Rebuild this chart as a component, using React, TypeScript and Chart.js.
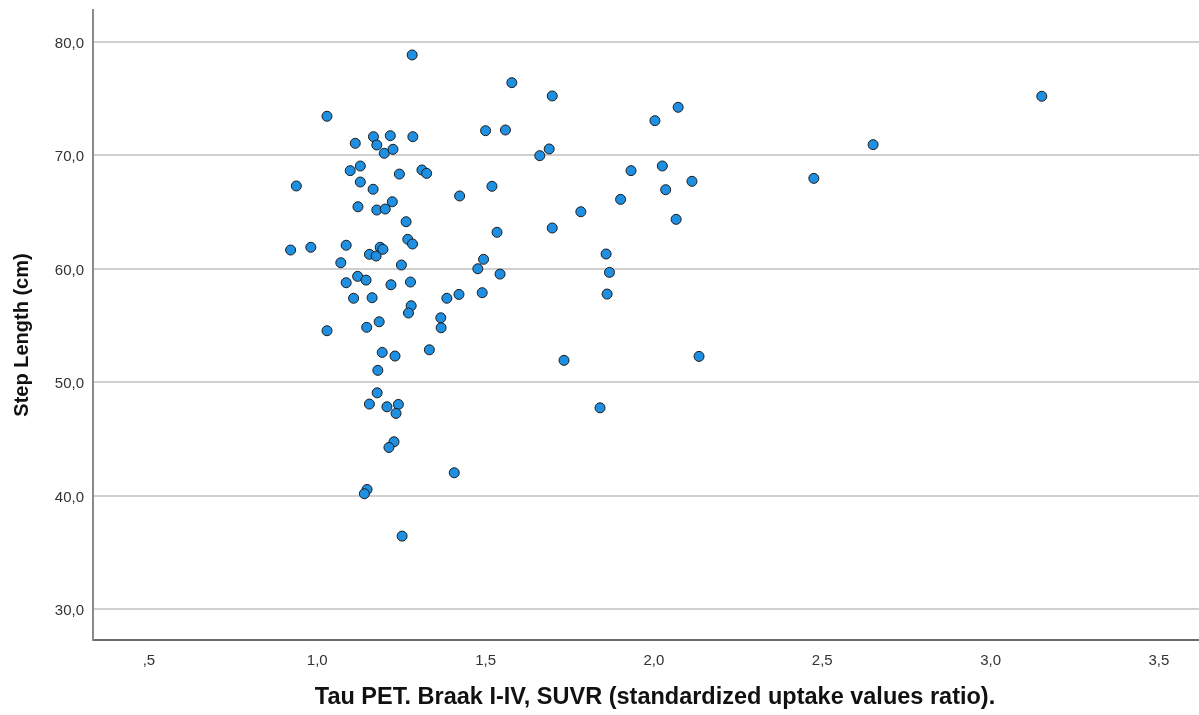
import React, { useEffect, useRef } from "react";
import { Chart, registerables } from "chart.js";

Chart.register(...registerables);

// Tau PET SUVR (x) vs Step Length in cm (y)
const xValues = [
  1.282, 1.578, 1.698, 1.029, 1.500, 1.559, 1.113, 1.167, 1.217, 1.284,
  1.177, 1.199, 1.225, 1.661, 1.689, 1.098, 1.128, 1.244, 1.311, 1.325,
  0.938, 1.128, 1.166, 1.519, 1.423, 1.121, 1.177, 1.202, 1.223, 1.264,
  1.534, 1.698, 0.921, 0.981, 1.086, 1.155, 1.175, 1.187, 1.195, 1.269,
  1.283, 1.070, 1.250, 1.494, 1.477, 1.543, 1.086, 1.120, 1.145, 1.219,
  1.277, 1.108, 1.163, 1.385, 1.421, 1.490, 2.072, 2.003, 1.932, 2.025,
  2.113, 2.035, 1.901, 1.783, 2.066, 1.858, 1.868, 1.861, 3.152, 2.651,
  2.475, 1.733, 2.134, 1.840, 1.279, 1.271, 1.367, 1.368, 1.029, 1.147,
  1.184, 1.333, 1.193, 1.231, 1.180, 1.178, 1.155, 1.207, 1.241, 1.234,
  1.228, 1.213, 1.407, 1.148, 1.140, 1.252,
];
const yValues = [
  78.83, 76.39, 75.22, 73.43, 72.16, 72.22, 71.05, 71.63, 71.72, 71.63,
  70.90, 70.17, 70.52, 69.96, 70.55, 68.64, 69.05, 68.34, 68.70, 68.40,
  67.29, 67.64, 67.00, 67.26, 66.41, 65.46, 65.17, 65.26, 65.90, 64.14,
  63.21, 63.59, 61.65, 61.89, 62.07, 61.27, 61.12, 61.89, 61.71, 62.59,
  62.18, 60.53, 60.33, 60.83, 60.00, 59.53, 58.77, 59.33, 59.00, 58.59,
  58.83, 57.40, 57.45, 57.40, 57.74, 57.89, 74.22, 73.04, 68.64, 69.05,
  67.70, 66.96, 66.11, 65.02, 64.35, 61.30, 59.68, 57.77, 75.19, 70.93,
  67.96, 51.93, 52.28, 47.75, 56.74, 56.10, 55.68, 54.80, 54.54, 54.84,
  55.33, 52.86, 52.63, 52.31, 51.05, 49.07, 48.08, 47.84, 48.05, 47.26,
  44.76, 44.26, 42.03, 40.56, 40.18, 36.45,
];

const xTickValues = [0.5, 1.0, 1.5, 2.0, 2.5, 3.0, 3.5];
const xTickLabels = [",5", "1,0", "1,5", "2,0", "2,5", "3,0", "3,5"];
const yTickValues = [30, 40, 50, 60, 70, 80];
const yTickLabels = ["30,0", "40,0", "50,0", "60,0", "70,0", "80,0"];

const xAxisTitle = "Tau PET. Braak I-IV, SUVR (standardized uptake values ratio).";
const yAxisTitle = "Step Length (cm)";

const xMin = 0.334;
const xMax = 3.619;
const yMin = 27.3;
const yMax = 82.79;

const FONT = "'Liberation Sans', Arial, Helvetica, sans-serif";

// Axis titles, placed slightly off-centre as in the source picture.
const axisTitlesPlugin = {
  id: "axisTitlesPlugin",
  afterDraw(chart: any) {
    const { ctx, chartArea } = chart;
    ctx.save();
    ctx.fillStyle = "#111111";
    ctx.textAlign = "center";
    ctx.textBaseline = "middle";

    ctx.font = `bold 23.5px ${FONT}`;
    ctx.fillText(xAxisTitle, (chartArea.left + chartArea.right) / 2 + 9, 698);

    ctx.translate(22, (chartArea.top + chartArea.bottom) / 2 + 10);
    ctx.rotate(-Math.PI / 2);
    ctx.font = `bold 20px ${FONT}`;
    ctx.fillText(yAxisTitle, 0, 0);
    ctx.restore();
  },
};

export default function App() {
  const canvasRef = useRef<HTMLCanvasElement | null>(null);

  useEffect(() => {
    const canvas = canvasRef.current;
    if (!canvas) return;
    const points = xValues.map((x, i) => ({ x, y: yValues[i] }));
    const chart = new Chart(canvas, {
      type: "scatter",
      data: {
        datasets: [
          {
            data: points,
            backgroundColor: "#1f8fe2",
            borderColor: "#1b1b1b",
            borderWidth: 1,
            pointRadius: 5,
            pointHoverRadius: 5,
          },
        ],
      },
      options: {
        animation: false,
        responsive: false,
        devicePixelRatio: 1,
        layout: { autoPadding: false, padding: { top: 10, left: 0, right: 0, bottom: 0 } },
        plugins: {
          legend: { display: false },
          tooltip: { enabled: false },
        },
        scales: {
          x: {
            type: "linear",
            min: xMin,
            max: xMax,
            afterBuildTicks: (scale: any) => {
              scale.ticks = xTickValues.map((v) => ({ value: v }));
            },
            afterFit: (scale: any) => {
              scale.height = 75;
              scale.paddingLeft = 0;
              scale.paddingRight = 0;
            },
            ticks: {
              padding: 12,
              color: "#333333",
              font: { family: FONT, size: 15 },
              maxRotation: 0,
              autoSkip: false,
              callback: (value: any) => {
                const i = xTickValues.findIndex((v) => Math.abs(v - Number(value)) < 1e-6);
                return i >= 0 ? xTickLabels[i] : "";
              },
            },
            grid: { display: false, drawTicks: false },
            border: { display: true, color: "#6a6a6a", width: 2 },
            title: { display: false },
          },
          y: {
            type: "linear",
            min: yMin,
            max: yMax,
            afterBuildTicks: (scale: any) => {
              scale.ticks = yTickValues.map((v) => ({ value: v }));
            },
            afterFit: (scale: any) => {
              scale.width = 93;
              scale.paddingTop = 0;
              scale.paddingBottom = 0;
            },
            ticks: {
              padding: 9,
              labelOffset: 2,
              color: "#333333",
              font: { family: FONT, size: 15 },
              autoSkip: false,
              callback: (value: any) => {
                const i = yTickValues.findIndex((v) => Math.abs(v - Number(value)) < 1e-6);
                return i >= 0 ? yTickLabels[i] : "";
              },
            },
            grid: { display: true, drawTicks: false, color: "#cfcfcf", lineWidth: 2 },
            border: { display: true, color: "#8a8a8a", width: 2 },
            title: { display: false },
          },
        },
      },
      plugins: [axisTitlesPlugin],
    });
    return () => chart.destroy();
  }, []);

  return (
    <div style={{ position: "absolute", left: 0, top: 0, width: 1199, height: 715, background: "#ffffff" }}>
      <canvas ref={canvasRef} width={1199} height={715} style={{ width: 1199, height: 715, display: "block" }} />
    </div>
  );
}
